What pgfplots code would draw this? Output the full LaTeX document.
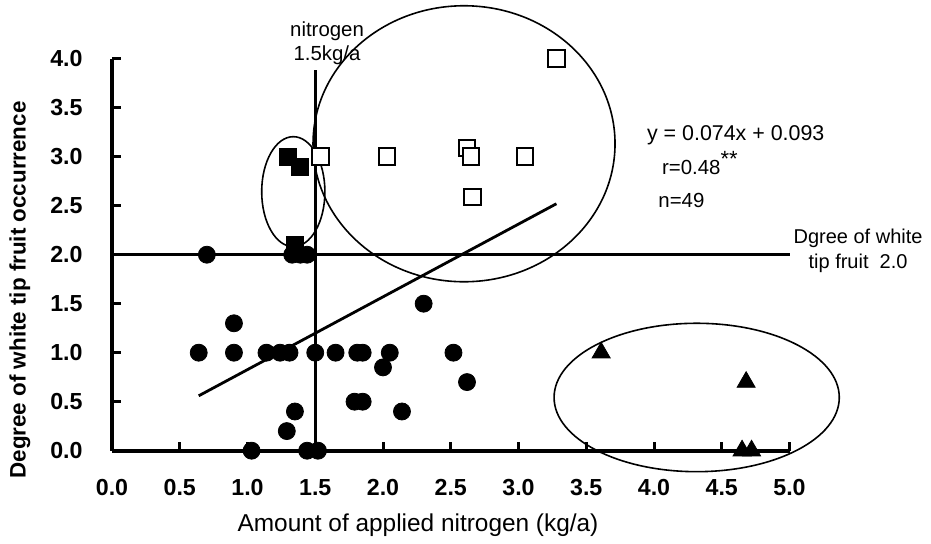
\documentclass[border=0pt]{standalone}
\usepackage{fontspec}
\setmainfont{Liberation Sans}
\usepackage{pgfplots}
\pgfplotsset{compat=1.18}
\begin{document}
\begin{tikzpicture}
\useasboundingbox (0,0) rectangle (465.5pt,272pt);
\begin{axis}[
  at={(56pt,46.65pt)}, anchor=south west,
  scale only axis, width=338.75pt, height=196pt,
  xmin=0, xmax=5, ymin=0, ymax=4,
  clip=false,
  axis lines=left,
  axis line style={-, line width=2pt},
  xtick={0,0.5,...,5}, ytick={0,0.5,...,4},
  tick align=inside, major tick length=4.5pt,
  every tick/.style={black, line width=1.5pt},
  /pgf/number format/.cd, fixed, fixed zerofill, precision=1, assume math mode=true,
  /pgfplots/.cd,
  tick label style={font=\bfseries\fontsize{11.6}{13}\selectfont},
  xticklabel style={anchor=north, inner sep=0pt, yshift=-14pt},
  yticklabel style={anchor=east, inner sep=0pt, xshift=-14.5pt},
  xlabel={Amount of applied nitrogen (kg/a)},
  xlabel style={at={(axis description cs:0.4517,-0.1895)}, anchor=center, inner sep=0pt, font=\fontsize{12.2}{14}\selectfont},
  ylabel={Degree of white tip fruit occurrence},
  ylabel style={at={(axis description cs:-0.1358,0.41)}, anchor=center, inner sep=0pt, font=\bfseries\fontsize{11.2}{13}\selectfont},
]
% reference lines
\addplot[black, line width=1.4pt] coordinates {(0,2) (5,2)};
\addplot[black, line width=1.6pt] coordinates {(1.5,0) (1.5,3.88)};
% regression line
\addplot[black, line width=1.4pt] coordinates {(0.64,0.56) (3.28,2.52)};
% ellipses
\draw[line width=0.8pt] (axis cs:2.598,3.132) ellipse [x radius=75.5pt, y radius=69pt];
\draw[line width=0.8pt] (axis cs:1.338,2.643) ellipse [x radius=15.8pt, y radius=27.5pt];
\draw[line width=0.8pt] (axis cs:4.315,0.543) ellipse [x radius=71.3pt, y radius=37.1pt];
% filled circles
\addplot[only marks, mark=*, mark size=4.25pt, black] coordinates {
(0.70,2.0) (0.90,1.3) (0.64,1.0) (0.90,1.0) (1.14,1.0) (1.24,1.0) (1.31,1.0)
(1.50,1.0) (1.65,1.0) (1.81,1.0) (1.85,1.0) (2.05,1.0) (2.00,0.85) (2.30,1.5)
(2.52,1.0) (2.62,0.7) (1.79,0.5) (1.85,0.5) (2.14,0.4) (1.35,0.4) (1.29,0.2)
(1.03,0.0) (1.44,0.0) (1.52,0.0) (1.33,2.0) (1.39,2.0) (1.44,2.0)
};
% filled squares
\addplot[only marks, mark=square*, mark size=4.25pt, black] coordinates {
(1.30,3.0) (1.39,2.9) (1.35,2.1)
};
% open squares
\addplot[only marks, mark=square*, mark size=4.1pt, mark options={draw=black, fill=white, line width=1pt}] coordinates {
(1.54,3.0) (2.03,3.0) (2.62,3.09) (2.65,3.0) (3.05,3.0) (2.66,2.59) (3.28,4.0)
};
% triangles
\addplot[only marks, mark=triangle*, mark size=5.2pt, black] coordinates {
(3.61,1.0) (4.68,0.7) (4.65,0.0) (4.72,0.0)
};
% annotations
\node[align=center, inner sep=0pt, font=\fontsize{10.2}{11.6}\selectfont] at (axis cs:1.587,4.157) {nitrogen\\1.5kg/a};
\node[anchor=west, inner sep=0pt, font=\fontsize{10.7}{12}\selectfont] at (axis cs:3.946,3.221) {y = 0.074x + 0.093};
\node[anchor=west, inner sep=0pt, font=\fontsize{10.2}{12}\selectfont] at (axis cs:4.057,2.936) {r=0.48\raisebox{0.4em}{\fontsize{11}{12}\selectfont **}};
\node[anchor=west, inner sep=0pt, font=\fontsize{10.2}{12}\selectfont] at (axis cs:4.030,2.558) {n=49};
\node[align=center, inner sep=0pt, font=\fontsize{10}{12.5}\selectfont] at (axis cs:5.506,2.043) {Dgree of white\\tip fruit\ \ 2.0};
\end{axis}
\end{tikzpicture}
\end{document}
